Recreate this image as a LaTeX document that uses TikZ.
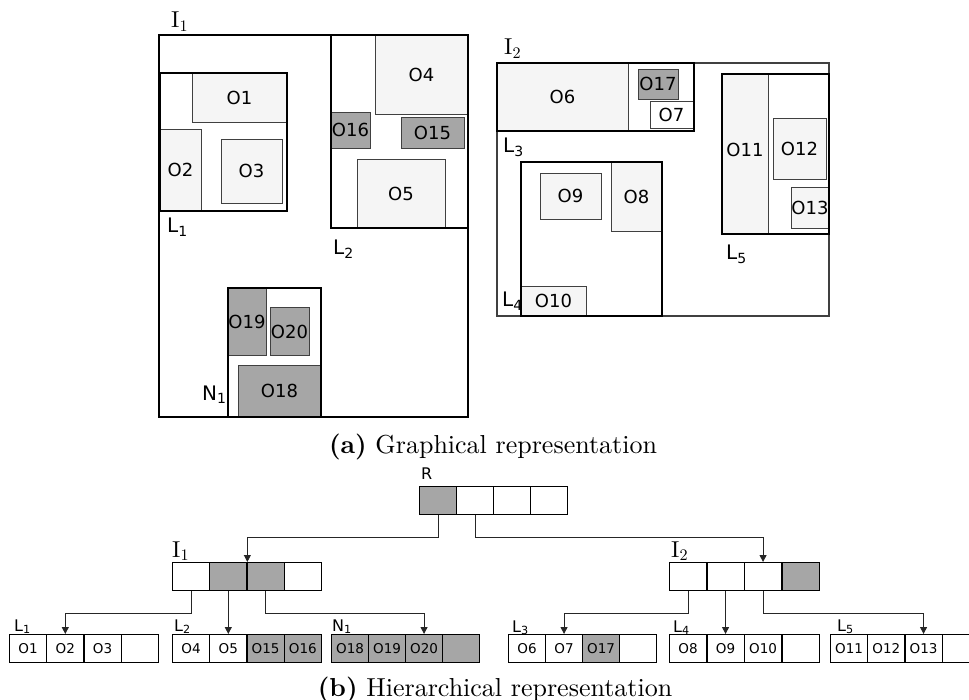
\documentclass[tikz,border=0pt]{standalone}
\usepackage{fontspec}
\usepackage{tikz}
\usetikzlibrary{arrows.meta}
\newfontfamily\objfont{DejaVu Sans}
\newfontfamily\capfont{lmroman10}[Extension=.otf, UprightFont=*-regular, BoldFont=*-bold]
\definecolor{objlight}{RGB}{245,245,245}
\definecolor{objdark}{RGB}{166,166,166}
\definecolor{edgegray}{RGB}{64,64,64}

\begin{document}
\begin{tikzpicture}[
  x=1pt, y=-1pt,
  obj/.style={draw=edgegray, line width=0.9pt, fill=objlight},
  objhot/.style={obj, fill=objdark},
  olabel/.style={font=\objfont\fontsize{18}{18}\selectfont, inner sep=0pt},
  mbr/.style={draw, line width=1.5pt},
  mbrbig/.style={draw, line width=2.6pt},
  tag/.style={font=\objfont\fontsize{20}{20}\selectfont, anchor=base west, inner sep=0pt},
  itag/.style={font=\capfont\fontsize{23}{23}\selectfont, anchor=base west, inner sep=0pt},
  ttag/.style={font=\objfont\fontsize{16}{16}\selectfont, anchor=base west, inner sep=0pt},
  cell/.style={draw, line width=0.9pt, minimum width=37.2pt, minimum height=28pt, inner sep=0pt,
    anchor=north west, font=\objfont\fontsize{13.5}{13.5}\selectfont},
  link/.style={draw=black!85, line width=0.9pt, -{Triangle[length=7pt,width=7pt]}},
  caption/.style={font=\capfont\fontsize{26}{26}\selectfont, anchor=base}
]
\useasboundingbox (0,0) rectangle (969,700);

% (a) left subtree I1
\draw[obj] (192,73) rectangle (287,122);
\node[olabel] (o1) at (239.5,97.5) {O1};
\draw[obj] (160,129) rectangle (201,211);
\node[olabel] (o2) at (180.5,170) {O2};
\draw[obj] (221,139) rectangle (282,203);
\node[olabel] (o3) at (251.5,171) {O3};
\draw[obj] (375,35) rectangle (468,114);
\node[olabel] (o4) at (421.5,74.5) {O4};
\draw[objhot] (331,112) rectangle (370,148);
\node[olabel] (o16) at (350.5,130) {O16};
\draw[objhot] (401,117) rectangle (464,148);
\node[olabel] (o15) at (432.5,132.5) {O15};
\draw[obj] (357,159) rectangle (445,228);
\node[olabel] (o5) at (401,193.5) {O5};
\draw[objhot] (228,288) rectangle (266,355);
\node[olabel] (o19) at (247,321.5) {O19};
\draw[objhot] (270,307) rectangle (309,355);
\node[olabel] (o20) at (289.5,332) {O20};
\draw[objhot] (238,365) rectangle (321,417);
\node[olabel] (o18) at (279.5,391) {O18};
\draw[mbr] (160,73) rectangle (287,211);
\draw[mbrbig] (331,35) rectangle (468,228);
\draw[mbrbig] (228,288) rectangle (321,417);
\draw[mbrbig] (159,35) rectangle (468,417);
\node[itag] (i1) at (171,28) {I\textsubscript{1}};
\node[tag] (l1) at (167,233) {L\textsubscript{1}};
\node[tag] (l2) at (333,255) {L\textsubscript{2}};
\node[tag] (n1) at (202,400) {N\textsubscript{1}};

% (a) right subtree I2
\draw[line width=1.3pt, draw=edgegray] (497,63) rectangle (829,316);
\draw[obj] (497,63) rectangle (628,131);
\node[olabel] (o6) at (562.5,97) {O6};
\draw[objhot] (638,69) rectangle (678,99);
\node[olabel] (o17) at (658,84) {O17};
\draw[obj, fill=white] (650,101) rectangle (693,128);
\node[olabel] (o7) at (671.5,114.5) {O7};
\draw[obj] (540,173) rectangle (601,219);
\node[olabel] (o9) at (570.5,196) {O9};
\draw[obj] (611,162) rectangle (662,231);
\node[olabel] (o8) at (636.5,196.5) {O8};
\draw[obj] (521,286) rectangle (586,316);
\node[olabel] (o10) at (553.5,301) {O10};
\draw[obj] (722,74) rectangle (768,234);
\node[olabel] (o11) at (745,150) {O11};
\draw[obj] (773,118) rectangle (826,179);
\node[olabel] (o12) at (799.5,148.5) {O12};
\draw[obj] (791,187) rectangle (829,228);
\node[olabel] (o13) at (810,207.5) {O13};
\draw[mbr] (497,63) rectangle (694,131);
\draw[mbr] (521,162) rectangle (662,316);
\draw[mbr] (722,74) rectangle (829,234);
\node[itag] (i2) at (504,55) {I\textsubscript{2}};
\node[tag] (l3) at (503,153) {L\textsubscript{3}};
\node[tag] (l4) at (502,307) {L\textsubscript{4}};
\node[tag] (l5) at (726,260) {L\textsubscript{5}};

\node[caption] (capa) at (493,453) {\textbf{(a)} Graphical representation};

% (b) tree of records
\foreach \f [count=\i] in {objdark,white,white,white}
  \node[cell, fill=\f] (R\i) at ({419+37*(\i-1)},486) {};
\foreach \f [count=\i] in {white,objdark,objdark,white}
  \node[cell, fill=\f] (Ia\i) at ({172+37.25*(\i-1)},562) {};
\foreach \f [count=\i] in {white,white,white,objdark}
  \node[cell, fill=\f] (Ib\i) at ({669+37.5*(\i-1)},562) {};
\foreach \t/\f [count=\i] in {O1/white,O2/white,O3/white,{}/white}
  \node[cell, fill=\f] (La\i) at ({9+37.25*(\i-1)},634) {\t};
\foreach \t/\f [count=\i] in {O4/white,O5/white,O15/objdark,O16/objdark}
  \node[cell, fill=\f] (Lb\i) at ({172+37.25*(\i-1)},634) {\t};
\foreach \t/\f [count=\i] in {O18/objdark,O19/objdark,O20/objdark,{}/objdark}
  \node[cell, fill=\f] (Na\i) at ({331+37*(\i-1)},634) {\t};
\foreach \t/\f [count=\i] in {O6/white,O7/white,O17/objdark,{}/white}
  \node[cell, fill=\f] (Lc\i) at ({508+37*(\i-1)},634) {\t};
\foreach \t/\f [count=\i] in {O8/white,O9/white,O10/white,{}/white}
  \node[cell, fill=\f] (Ld\i) at ({669+37.5*(\i-1)},634) {\t};
\foreach \t/\f [count=\i] in {O11/white,O12/white,O13/white,{}/white}
  \node[cell, fill=\f] (Le\i) at ({830+37.25*(\i-1)},634) {\t};

\node[ttag] (rt) at (421,479) {R};
\node[itag] (iat) at (172,557) {I\textsubscript{1}};
\node[itag] (ibt) at (671,557) {I\textsubscript{2}};
\node[ttag] (lat) at (14,631) {L\textsubscript{1}};
\node[ttag] (lbt) at (174,631) {L\textsubscript{2}};
\node[ttag] (nat) at (332,631) {N\textsubscript{1}};
\node[ttag] (lct) at (512,632) {L\textsubscript{3}};
\node[ttag] (ldt) at (673,632) {L\textsubscript{4}};
\node[ttag] (let) at (837,631) {L\textsubscript{5}};

\draw[link] (R1.south) -- ++(0,-23pt) -| (Ia2.north east);
\draw[link] (R2.south) -- ++(0,-23pt) -| (Ib3.north);
\draw[link] (Ia1.south) -- ++(0,-23pt) -| (La2.north);
\draw[link] (Ia2.south) -- (Ia2.south |- Lb2.north);
\draw[link] (Ia3.south) -- ++(0,-23pt) -| (Na3.north);
\draw[link] (Ib1.south) -- ++(0,-23pt) -| (Lc2.north);
\draw[link] (Ib2.south) -- (Ib2.south |- Ld2.north);
\draw[link] (Ib3.south) -- ++(0,-23pt) -| (Le3.north);

\node[caption] (capb) at (495,696) {\textbf{(b)} Hierarchical representation};
\end{tikzpicture}
\end{document}
